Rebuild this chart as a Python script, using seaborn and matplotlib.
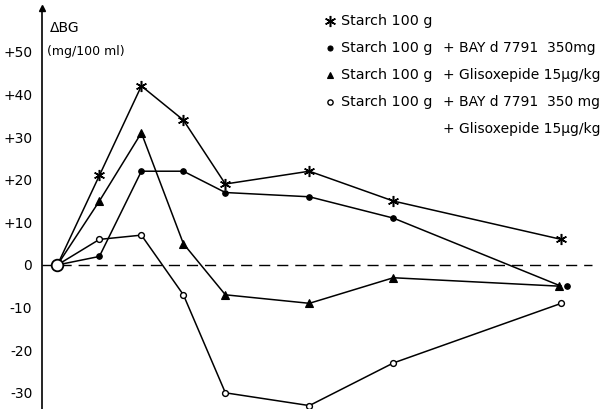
import matplotlib
matplotlib.use("Agg")
import matplotlib.pyplot as plt
import matplotlib.transforms as mtransforms
import pandas as pd
import seaborn as sns

# Change of blood glucose (mg/100 ml) after a starch load, by time (min)
minutes = [0, 15, 30, 45, 60, 90, 120, 180]
starch = [0, 21, 42, 34, 19, 22, 15, 6]
starch_bay = [0, 2, 22, 22, 17, 16, 11, -5]
starch_gliso = [0, 15, 31, 5, -7, -9, -3, -5]
starch_bay_gliso = [0, 6, 7, -7, -30, -33, -23, -9]

ytick_values = [-30, -20, -10, 0, 10, 20, 30, 40, 50]
ytick_labels = ["-30", "-20", "-10", "0", "+10", "+20", "+30", "+40", "+50"]

legend_left = ["Starch 100 g", "Starch 100 g", "Starch 100 g", "Starch 100 g", ""]
legend_right = ["", "+ BAY d 7791  350mg", "+ Glisoxepide 15\u00b5g/kg",
                "+ BAY d 7791  350 mg", "+ Glisoxepide 15\u00b5g/kg"]

series = {
    "starch": starch,
    "bay": starch_bay,
    "gliso": starch_gliso,
    "bay_gliso": starch_bay_gliso,
}
styles = {
    "starch": dict(marker=(6, 2, 0), markersize=8, markerfacecolor="black", markeredgewidth=1.1),
    "bay": dict(marker="o", markersize=4, markerfacecolor="black", markeredgewidth=0.8),
    "gliso": dict(marker="^", markersize=5.5, markerfacecolor="black", markeredgewidth=0.8),
    "bay_gliso": dict(marker="o", markersize=4.2, markerfacecolor="white", markeredgewidth=1.0),
}
# the two coinciding end markers at 180 min are set slightly apart (points)
end_shift = {"bay": 4.0, "gliso": -1.5}

sns.set_style("white")
plt.rcParams["font.family"] = ["DejaVu Sans"]
plt.rcParams["text.color"] = "black"
plt.rcParams["ytick.color"] = "black"
plt.rcParams["ytick.labelcolor"] = "black"

W, H = 612, 409
fig = plt.figure(figsize=(W / 100, H / 100), dpi=100)
ax = fig.add_axes([42 / W, 0, 570 / W, 401 / H])

# Zero reference line
ax.plot([-5.5, 191], [0, 0], color="black", lw=1.0, dashes=(8, 5), zorder=1)

n = len(minutes)
for key, values in series.items():
    df = pd.DataFrame({"t": minutes, "v": values})
    shift = end_shift.get(key)
    marks = list(range(1, n - 1)) if shift is not None else list(range(1, n))
    sns.lineplot(data=df, x="t", y="v", ax=ax, color="black", lw=1.1,
                 markevery=marks, markeredgecolor="black", zorder=3, **styles[key])
    if shift is not None:
        tr = ax.transData + mtransforms.ScaledTranslation(shift / 72, 0, fig.dpi_scale_trans)
        ax.plot([minutes[-1]], [values[-1]], linestyle="none", color="black",
                markeredgecolor="black", transform=tr, zorder=4, **styles[key])

# Common starting point
sns.scatterplot(x=[minutes[0]], y=[starch[0]], ax=ax, s=70, marker="o",
                facecolor="white", edgecolor="black", linewidth=1.3, zorder=5)

ax.set_xlim(-5.5, 198.1)
ax.set_ylim(-33.8, 60.3)
ax.set_xlabel("")
ax.set_ylabel("")
ax.set_xticks([])
ax.set_yticks(ytick_values)
ax.set_yticklabels(ytick_labels, fontsize=10)
ax.tick_params(axis="y", direction="out", length=5, width=1.0, pad=2, colors="black")
for side in ("top", "right", "bottom"):
    ax.spines[side].set_visible(False)
ax.spines["left"].set_linewidth(1.2)
ax.spines["left"].set_color("black")
ax.plot([0], [1], marker="^", ms=5, color="black", transform=ax.transAxes, clip_on=False)

fig.text(50 / W, 1 - 28 / H, "\u0394BG", fontsize=10, va="center", ha="left")
fig.text(47 / W, 1 - 51 / H, "(mg/100 ml)", fontsize=9, va="center", ha="left")

# Key
rows_y = [21, 48, 75, 102, 129]
keys = ["starch", "bay", "gliso", "bay_gliso", None]
for y, key, left, right in zip(rows_y, keys, legend_left, legend_right):
    fy = 1 - y / H
    if key is not None:
        st = dict(styles[key])
        if key != "starch":
            st["markersize"] = st["markersize"] * 0.9
        fig.add_artist(plt.Line2D([330 / W], [fy], transform=fig.transFigure,
                                  color="black", markeredgecolor="black", **st))
    if left:
        fig.text(341 / W, fy, left, fontsize=10.3, va="center", ha="left")
    if right:
        fig.text(443 / W, fy, right, fontsize=10, va="center", ha="left")

fig.savefig("out.png", dpi=100)
